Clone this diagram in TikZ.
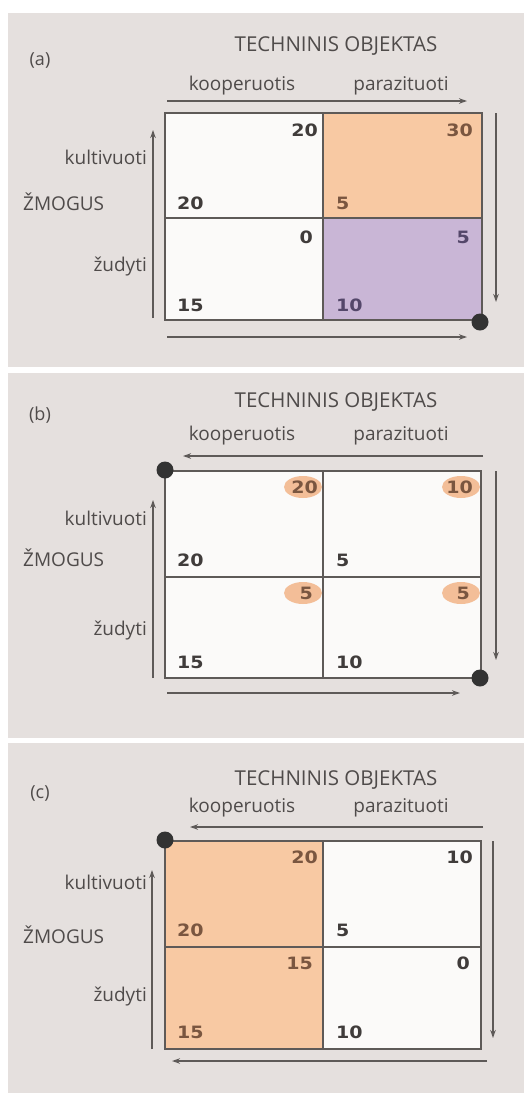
\documentclass[tikz,border=0pt]{standalone}
\usepackage{fontspec}
\setmainfont{Open Sans}
\newfontfamily\numfont{DejaVu Sans}[FakeStretch=1.12]
\usetikzlibrary{arrows.meta,shapes.geometric}
\definecolor{bgpanel}{HTML}{E5E0DE}
\definecolor{cellwhite}{HTML}{FBFAF9}
\definecolor{cellorange}{HTML}{F8C9A3}
\definecolor{cellpurple}{HTML}{C9B6D6}
\definecolor{gridline}{HTML}{5E5A58}
\definecolor{txtgray}{HTML}{4F4B4A}
\definecolor{numgray}{HTML}{403C3B}
\definecolor{numbrown}{HTML}{7A5640}
\definecolor{numpurple}{HTML}{54476A}
\definecolor{hilite}{HTML}{F3BE98}
\tikzset{
  panel/.style={fill=bgpanel, draw=none},
  cell/.style={draw=gridline, line width=1.7pt},
  axisarrow/.style={draw=gridline, line width=1.6pt, -{Stealth[length=8pt,width=5.5pt]}},
  eqdot/.style={circle, fill=black!80, minimum size=17pt, inner sep=0pt},
  lbl/.style={font=\fontsize{19}{19}\selectfont, text=txtgray, inner sep=0pt},
  ttl/.style={font=\fontsize{20.5}{20}\selectfont, text=txtgray, inner sep=0pt},
  tag/.style={font=\fontsize{18}{18}\selectfont, text=txtgray, inner sep=0pt},
  num/.style={font=\numfont\bfseries\fontsize{17}{17}\selectfont, text=numgray, inner sep=0pt},
  hl/.style={ellipse, fill=hilite, minimum width=38pt, minimum height=22pt, inner sep=0pt},
}
\begin{document}
\begin{tikzpicture}[x=1pt, y=-1pt]
\useasboundingbox (0,0) rectangle (524,1093);
\fill[white] (0,0) rectangle (524,1093);

% ===================== Panel (a) =====================
\fill[panel] (8,13) rectangle (524,367);
\node[tag] (ta) at (40,60) {(a)};
\node[ttl] (tta) at (336,46) {TECHNINIS OBJEKTAS};
\node[lbl] (ka) at (242,86) {kooperuotis};
\node[lbl] (pa) at (401,86) {parazituoti};
\fill[cellwhite] (165,113) rectangle (323,320);
\fill[cellorange] (323,113) rectangle (482,218);
\fill[cellpurple] (323,218) rectangle (482,320);
\draw[cell] (165,113) rectangle (482,320);
\draw[cell] (323,113) -- (323,320);
\draw[cell] (165,218) -- (482,218);
\coordinate (a1s) at (167,101); \coordinate (a1e) at (467,101);
\coordinate (a2s) at (153,318); \coordinate (a2e) at (153,130);
\coordinate (a3s) at (496,113); \coordinate (a3e) at (496,302);
\coordinate (a4s) at (167,337); \coordinate (a4e) at (467,337);
\draw[axisarrow] (a1s) -- (a1e);
\draw[axisarrow] (a2s) -- (a2e);
\draw[axisarrow] (a3s) -- (a3e);
\draw[axisarrow] (a4s) -- (a4e);
\node[eqdot] (da) at (480,322) {};
\node[lbl, anchor=east] (kua) at (147,157) {kultivuoti};
\node[lbl, anchor=west] (zma) at (23,202) {ŽMOGUS};
\node[lbl, anchor=east] (zua) at (147,266) {žudyti};
\node[num, anchor=east] (na1) at (318,130) {20};
\node[num, anchor=east, text=numbrown] (na2) at (473,130) {30};
\node[num, anchor=west] (na3) at (177,203) {20};
\node[num, anchor=west, text=numbrown] (na4) at (336,203) {5};
\node[num, anchor=east] (na5) at (313,237) {0};
\node[num, anchor=east, text=numpurple] (na6) at (470,237) {5};
\node[num, anchor=west] (na7) at (177,305) {15};
\node[num, anchor=west, text=numpurple] (na8) at (336,305) {10};

% ===================== Panel (b) =====================
\fill[panel] (8,373) rectangle (524,738);
\node[tag] (tb) at (40,415) {(b)};
\node[ttl] (ttb) at (336,402) {TECHNINIS OBJEKTAS};
\node[lbl] (kb) at (242,436) {kooperuotis};
\node[lbl] (pb) at (401,436) {parazituoti};
\fill[cellwhite] (165,471) rectangle (481,678);
\node[hl] (hb1) at (303,487) {};
\node[hl] (hb2) at (461,487) {};
\node[hl] (hb3) at (303,593) {};
\node[hl] (hb4) at (461,593) {};
\draw[cell] (165,471) rectangle (481,678);
\draw[cell] (323,471) -- (323,678);
\draw[cell] (165,577) -- (481,577);
\coordinate (b1s) at (483,456); \coordinate (b1e) at (183,456);
\coordinate (b2s) at (153,678); \coordinate (b2e) at (153,500);
\coordinate (b3s) at (496,471); \coordinate (b3e) at (496,660);
\coordinate (b4s) at (167,693); \coordinate (b4e) at (460,693);
\draw[axisarrow] (b1s) -- (b1e);
\draw[axisarrow] (b2s) -- (b2e);
\draw[axisarrow] (b3s) -- (b3e);
\draw[axisarrow] (b4s) -- (b4e);
\node[eqdot] (db1) at (165,470) {};
\node[eqdot] (db2) at (480,678) {};
\node[lbl, anchor=east] (kub) at (147,518) {kultivuoti};
\node[lbl, anchor=west] (zmb) at (23,558) {ŽMOGUS};
\node[lbl, anchor=east] (zub) at (147,630) {žudyti};
\node[num, anchor=east, text=numbrown] (nb1) at (318,487) {20};
\node[num, anchor=east, text=numbrown] (nb2) at (473,487) {10};
\node[num, anchor=west] (nb3) at (177,560) {20};
\node[num, anchor=west] (nb4) at (336,560) {5};
\node[num, anchor=east, text=numbrown] (nb5) at (313,593) {5};
\node[num, anchor=east, text=numbrown] (nb6) at (470,593) {5};
\node[num, anchor=west] (nb7) at (177,662) {15};
\node[num, anchor=west] (nb8) at (336,662) {10};

% ===================== Panel (c) =====================
\fill[panel] (8,743) rectangle (524,1093);
\node[tag] (tc) at (40,793) {(c)};
\node[ttl] (ttc) at (336,780) {TECHNINIS OBJEKTAS};
\node[lbl] (kc) at (242,808) {kooperuotis};
\node[lbl] (pc) at (401,808) {parazituoti};
\fill[cellorange] (165,841) rectangle (323,1049);
\fill[cellwhite] (323,841) rectangle (481,1049);
\draw[cell] (165,841) rectangle (481,1049);
\draw[cell] (323,841) -- (323,1049);
\draw[cell] (165,947) -- (481,947);
\coordinate (c1s) at (483,827); \coordinate (c1e) at (190,827);
\coordinate (c2s) at (152,1049); \coordinate (c2e) at (152,870);
\coordinate (c3s) at (493,841); \coordinate (c3e) at (493,1038);
\coordinate (c4s) at (487,1061); \coordinate (c4e) at (172,1061);
\draw[axisarrow] (c1s) -- (c1e);
\draw[axisarrow] (c2s) -- (c2e);
\draw[axisarrow] (c3s) -- (c3e);
\draw[axisarrow] (c4s) -- (c4e);
\node[eqdot] (dc) at (165,840) {};
\node[lbl, anchor=east] (kuc) at (147,882) {kultivuoti};
\node[lbl, anchor=west] (zmc) at (23,935) {ŽMOGUS};
\node[lbl, anchor=east] (zuc) at (147,996) {žudyti};
\node[num, anchor=east, text=numbrown] (nc1) at (318,857) {20};
\node[num, anchor=east] (nc2) at (473,857) {10};
\node[num, anchor=west, text=numbrown] (nc3) at (177,930) {20};
\node[num, anchor=west] (nc4) at (336,930) {5};
\node[num, anchor=east, text=numbrown] (nc5) at (313,963) {15};
\node[num, anchor=east] (nc6) at (470,963) {0};
\node[num, anchor=west, text=numbrown] (nc7) at (177,1032) {15};
\node[num, anchor=west] (nc8) at (336,1032) {10};
\end{tikzpicture}
\end{document}
